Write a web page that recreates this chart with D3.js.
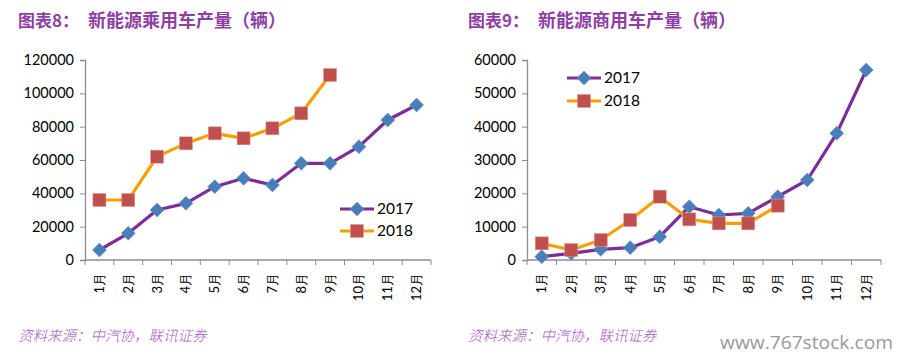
<!DOCTYPE html>
<html><head><meta charset="utf-8">
<script src="https://cdn.jsdelivr.net/npm/d3@7"></script>
<style>body{margin:0;background:#fff;}svg{display:block;}</style>
</head><body>
<svg id="c" width="900" height="362"></svg>
<script>
const months = ["1月","2月","3月","4月","5月","6月","7月","8月","9月","10月","11月","12月"];
const seriesNames = ["2017","2018"];
const passenger2017 = [6000,16000,30000,34000,44000,49000,45000,58000,58000,68000,84000,93000];
const passenger2018 = [36000,36000,62000,70000,76000,73000,79000,88000,111000];
const commercial2017 = [1000,2000,3200,3700,7000,16000,13500,14000,19000,24000,38000,57000];
const commercial2018 = [5000,3000,6000,12000,19000,12200,11000,11000,16300];
const yTicksLeft = [0,20000,40000,60000,80000,100000,120000];
const yTicksRight = [0,10000,20000,30000,40000,50000,60000];
const titlePrefix = ["图表8：","图表9："];
const titles = ["新能源乘用车产量（辆）","新能源商用车产量（辆）"];
const sourceText = "资料来源：中汽协，联讯证券";

const svg = d3.select("#c");
const C17 = "#7D2E96", M17 = "#4A7EBB", C18 = "#F5A000", M18 = "#C0504D";
const font = "Lato, 'Open Sans', sans-serif";

function chart(opt){
  const g = svg.append("g");
  const x = d3.scaleBand().domain(months).range([opt.x0, opt.x1]);
  const y = d3.scaleLinear().domain([0, opt.ymax]).range([260, 60]);
  const ya = g.append("g").attr("transform",`translate(${opt.x0},0)`)
    .call(d3.axisLeft(y).tickValues(opt.yTicks).tickSize(5).tickPadding(6).tickFormat(d3.format("d")));
  ya.select(".domain").attr("stroke","#8c8c8c").attr("stroke-width",1.3);
  ya.selectAll(".tick line").attr("stroke","#8c8c8c");
  ya.selectAll("text").attr("font-family",font).attr("font-size","14.5px").attr("fill","#000");
  const xa = g.append("g").attr("transform","translate(0,260)")
    .call(d3.axisBottom(x).tickSize(0).tickPadding(0));
  xa.select(".domain").attr("stroke","#8c8c8c").attr("stroke-width",1.3).attr("d",`M${opt.x0},0H${opt.x1}`);
  xa.selectAll("text").attr("font-family",font).attr("font-size","13px").attr("fill","#000")
    .attr("transform","translate(0,13) rotate(-90)").attr("text-anchor","end").attr("dy","0.35em").attr("dx","0");
  const bounds = months.map(m=>x(m)).concat([opt.x1]);
  g.selectAll(".bt").data(bounds).join("line")
    .attr("x1",d=>d).attr("x2",d=>d).attr("y1",260).attr("y2",265).attr("stroke","#8c8c8c");
  const cx = m => x(m) + x.bandwidth()/2;
  const line = d3.line().x((d,i)=>cx(months[i])).y(d=>y(d));
  function marker(sel, mc, kind){
    if(kind==="d"){
      sel.append("path").attr("d","M0,-7L7,0L0,7L-7,0Z").attr("fill",mc).attr("stroke","#5B8FCB").attr("stroke-width",0.5);
    } else {
      sel.append("rect").attr("x",-6.5).attr("y",-6.5).attr("width",13).attr("height",13).attr("fill",mc).attr("stroke","#d99").attr("stroke-width",0.5);
    }
  }
  function series(vals, lc, mc, kind){
    g.append("path").datum(vals).attr("d",line).attr("fill","none").attr("stroke",lc).attr("stroke-width",3.2).attr("stroke-linejoin","round");
    const pts = g.selectAll(null).data(vals).join("g").attr("transform",(d,i)=>`translate(${cx(months[i])},${y(d)})`);
    marker(pts, mc, kind);
  }
  series(opt.s17, C17, M17, "d");
  series(opt.s18, C18, M18, "s");
  const L = opt.legend;
  [[C17,M17,"d",seriesNames[0],L.y1],[C18,M18,"s",seriesNames[1],L.y2]].forEach(([lc,mc,k,name,ly])=>{
    g.append("line").attr("x1",L.x).attr("x2",L.x+34).attr("y1",ly).attr("y2",ly).attr("stroke",lc).attr("stroke-width",3.2);
    marker(g.append("g").attr("transform",`translate(${L.x+17},${ly})`), mc, k);
    g.append("text").attr("x",L.x+37).attr("y",ly).attr("dy","0.35em").attr("font-family",font).attr("font-size","15.5px").attr("fill","#000").text(name);
  });
  const tf = "'Noto Sans CJK SC', sans-serif";
  g.append("text").attr("x",opt.tx).attr("y",27).attr("font-family",tf).attr("font-weight","bold")
    .attr("font-size","17px").attr("fill","#8E3FA3").text(opt.prefix);
  g.append("text").attr("x",opt.tx+70).attr("y",27).attr("font-family",tf).attr("font-weight","bold")
    .attr("font-size","18px").attr("fill","#8E3FA3").text(opt.title);
  g.append("text").attr("x",opt.tx).attr("y",341).attr("font-family",tf).attr("font-style","italic")
    .attr("font-size","14.5px").attr("font-weight","300").attr("fill","#A455C4").text(sourceText);
}

chart({x0:85,x1:431,ymax:120000,yTicks:yTicksLeft,s17:passenger2017,s18:passenger2018,legend:{x:340,y1:209,y2:231},tx:18,prefix:titlePrefix[0],title:titles[0]});
chart({x0:527,x1:881,ymax:60000,yTicks:yTicksRight,s17:commercial2017,s18:commercial2018,legend:{x:567,y1:78,y2:101},tx:468,prefix:titlePrefix[1],title:titles[1]});

svg.append("text").attr("x",893).attr("y",349).attr("text-anchor","end").attr("font-family","'Open Sans',sans-serif")
  .attr("font-size","19px").attr("fill","#999").attr("textLength",173).attr("lengthAdjust","spacingAndGlyphs").text("www.767stock.com");
</script>
</body></html>
